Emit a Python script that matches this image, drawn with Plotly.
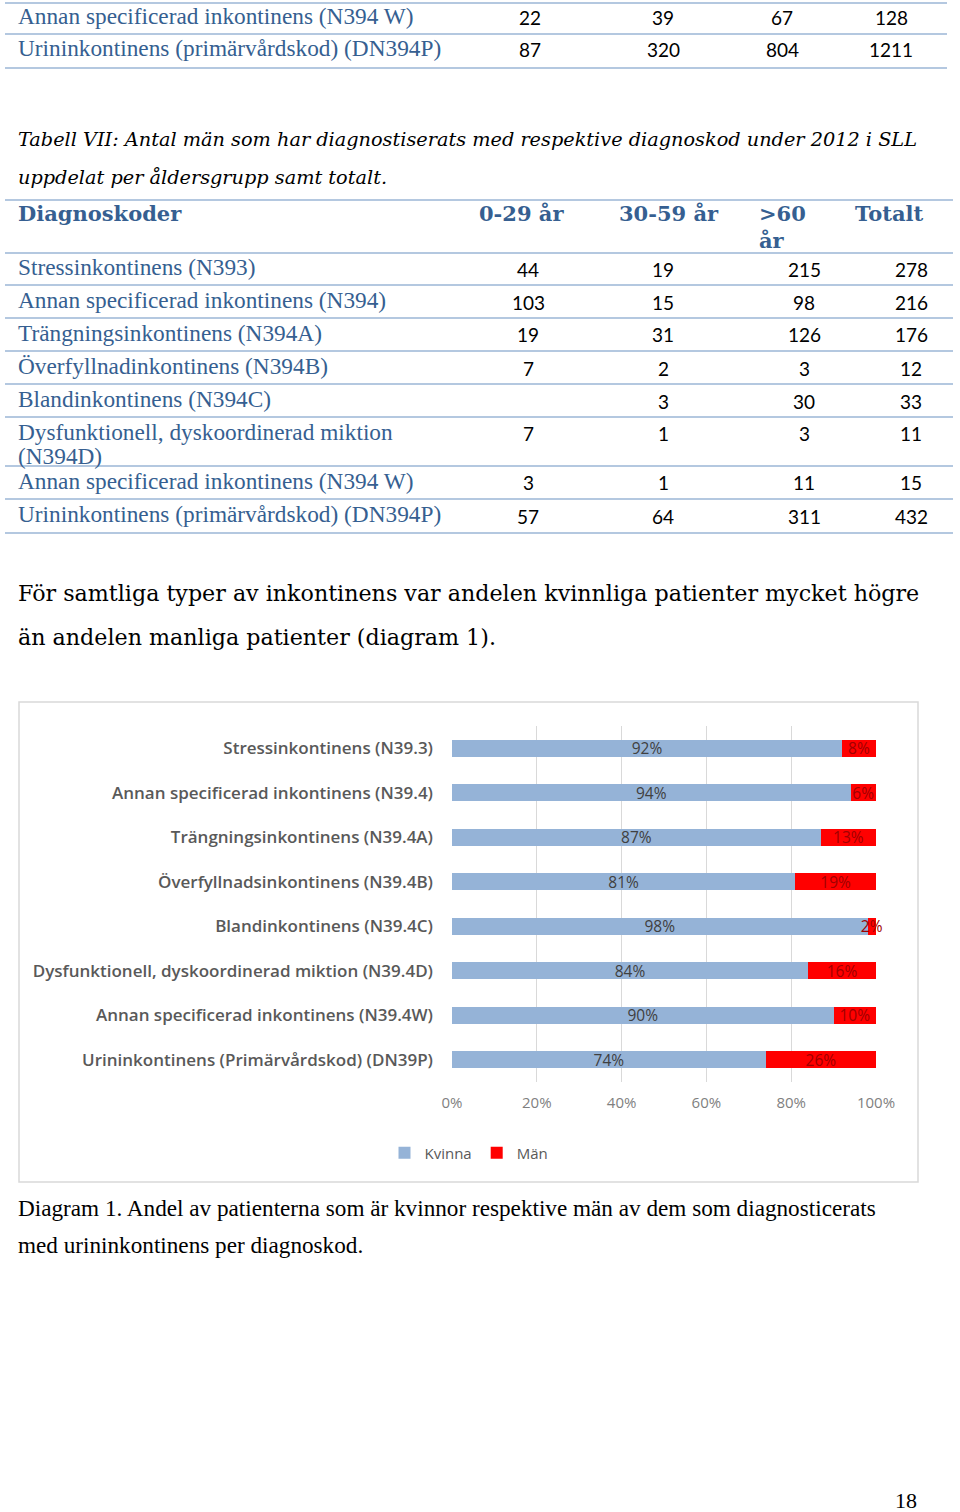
import plotly.graph_objects as go

# ---------------- data ----------------
top_rows = ["Annan specificerad inkontinens (N394 W)", "Urininkontinens (primärvårdskod) (DN394P)"]
top_0_29 = [22, 87]
top_30_59 = [39, 320]
top_60 = [67, 804]
top_total = [128, 1211]

tab_caption = ["Tabell VII: Antal män som har diagnostiserats med respektive diagnoskod under 2012 i SLL",
               "uppdelat per åldersgrupp samt totalt."]
tab_headers = ["Diagnoskoder", "0-29 år", "30-59 år", ">60<br>år", "Totalt"]
tab_rows = ["Stressinkontinens (N393)",
            "Annan specificerad inkontinens (N394)",
            "Trängningsinkontinens (N394A)",
            "Överfyllnadinkontinens (N394B)",
            "Blandinkontinens (N394C)",
            "Dysfunktionell, dyskoordinerad miktion<br>(N394D)",
            "Annan specificerad inkontinens (N394 W)",
            "Urininkontinens (primärvårdskod) (DN394P)"]
tab_0_29 = [44, 103, 19, 7, None, 7, 3, 57]
tab_30_59 = [19, 15, 31, 2, 3, 1, 1, 64]
tab_60 = [215, 98, 126, 3, 30, 3, 11, 311]
tab_total = [278, 216, 176, 12, 33, 11, 15, 432]

paragraph = ["För samtliga typer av inkontinens var andelen kvinnliga patienter mycket högre",
             "än andelen manliga patienter (diagram 1)."]

categories = ["Stressinkontinens (N39.3)",
              "Annan specificerad inkontinens (N39.4)",
              "Trängningsinkontinens (N39.4A)",
              "Överfyllnadsinkontinens (N39.4B)",
              "Blandinkontinens (N39.4C)",
              "Dysfunktionell, dyskoordinerad miktion (N39.4D)",
              "Annan specificerad inkontinens (N39.4W)",
              "Urininkontinens (Primärvårdskod) (DN39P)"]
kvinna = [0.92, 0.94, 0.87, 0.81, 0.98, 0.84, 0.90, 0.74]
man = [0.08, 0.06, 0.13, 0.19, 0.02, 0.16, 0.10, 0.26]
x_ticks = [0, 0.2, 0.4, 0.6, 0.8, 1.0]

diagram_caption = ["Diagram 1. Andel av patienterna som är kvinnor respektive män av dem som diagnosticerats",
                   "med urininkontinens per diagnoskod."]
page_number = "18"

# ---------------- page geometry ----------------
W, H = 960, 1512
def PX(x):
    return x / W
def PY(y):
    return 1 - y / H

BLUE_TXT = "#365F91"
LINE_C = "#B4C8E0"
SERIF = "Liberation Serif"
NUMF = "Lato"
PAD = 3  # annotation inner padding compensation

annotations = []
shapes = []

def text(x, y, s, size, color="#000000", family=SERIF, anchor="left", weight="normal", style="normal"):
    xx = x - PAD if anchor == "left" else x
    annotations.append(dict(x=PX(xx), y=PY(y), xref="paper", yref="paper", text=s,
                            showarrow=False, xanchor=anchor, yanchor="middle",
                            font=dict(size=size, color=color, family=family, weight=weight, style=style)))

def hline(x0, x1, y, color=LINE_C, width=2):
    shapes.append(dict(type="line", xref="paper", yref="paper", x0=PX(x0), x1=PX(x1),
                       y0=PY(y), y1=PY(y), line=dict(color=color, width=width)))

def fmt(v):
    return "" if v is None else str(v)

# ---- top table fragment ----
top_y = [16, 48]
top_cols = [530, 663, 782, 891]
for line_y in [3, 34, 68]:
    hline(5, 947, line_y)
for i, lab in enumerate(top_rows):
    text(19, top_y[i], lab, 23.3, BLUE_TXT)
    for cx, col in zip(top_cols, [top_0_29, top_30_59, top_60, top_total]):
        text(cx, top_y[i] + 2, fmt(col[i]), 19, "#000000", NUMF, "center")

# ---- caption ----
text(19, 140, tab_caption[0], 19.3, "#000000", "DejaVu Serif", style="italic")
text(19, 177, tab_caption[1], 19.3, "#000000", "DejaVu Serif", style="italic")

# ---- table VII ----
hline(5, 953, 200)
hline(5, 953, 253)
text(19, 214, tab_headers[0], 21, BLUE_TXT, "DejaVu Serif", weight="bold")
hdr_x = [480, 620, 760, 856]
for hx, h in zip(hdr_x, tab_headers[1:]):
    parts = h.split("<br>")
    for k, p in enumerate(parts):
        text(hx, 214 + 26 * k, p, 21, BLUE_TXT, "DejaVu Serif", weight="bold")

row_y = [267, 300, 333, 366, 399, 432, 481, 514]
sep_y = [285, 318, 351, 384, 417, 466, 499, 533]
tab_cols = [528, 663, 804, 911]
for i, lab in enumerate(tab_rows):
    for k, p in enumerate(lab.split("<br>")):
        text(19, row_y[i] + 24 * k, p, 23.3, BLUE_TXT)
    for cx, col in zip(tab_cols, [tab_0_29, tab_30_59, tab_60, tab_total]):
        text(cx, row_y[i] + 2, fmt(col[i]), 19, "#000000", NUMF, "center")
    hline(5, 953, sep_y[i])

# ---- paragraph ----
text(19, 593, paragraph[0], 22.2, "#000000", "DejaVu Serif")
text(19, 637, paragraph[1], 22.2, "#000000", "DejaVu Serif")

# ---- chart frame ----
shapes.append(dict(type="rect", xref="paper", yref="paper", x0=PX(19), x1=PX(918),
                   y0=PY(1182), y1=PY(702), line=dict(color="#D9D9D9", width=1.5),
                   fillcolor="rgba(0,0,0,0)", layer="below"))

# ---- diagram caption & page number ----
text(19, 1208, diagram_caption[0], 23.2, "#000000", SERIF)
text(19, 1245, diagram_caption[1], 23.2, "#000000", SERIF)
text(906, 1500, page_number, 22, "#000000", SERIF, "center")

# ---------------- chart ----------------
fig = go.Figure()
fig.add_trace(go.Bar(y=categories, x=kvinna, name="Kvinna", orientation="h",
                     marker=dict(color="#95B3D7", line=dict(width=0)),
                     texttemplate="%{x:.0%}", textposition="inside", insidetextanchor="middle",
                     textangle=0, constraintext="none", cliponaxis=False,
                     textfont=dict(size=15.5, color="#404040", family="Open Sans")))
fig.add_trace(go.Bar(y=categories, x=man, name="Män", orientation="h",
                     marker=dict(color="#FF0000", line=dict(width=0)),
                     texttemplate="%{x:.0%}", textposition="inside", insidetextanchor="middle",
                     textangle=0, constraintext="none", cliponaxis=False,
                     textfont=dict(size=15.5, color="#A00000", family="Open Sans")))

fig.update_layout(
    width=W, height=H, autosize=False, margin=dict(l=0, r=0, t=0, b=0, pad=0),
    paper_bgcolor="white", plot_bgcolor="white",
    barmode="stack", bargap=0.61,
    showlegend=True,
    legend=dict(orientation="h", x=PX(469), y=PY(1153), xanchor="center", yanchor="middle",
                itemwidth=30,
                font=dict(size=15, color="#595959", family="Open Sans"), traceorder="normal"),
    xaxis=dict(domain=[PX(452), PX(876)], range=[0, 1], tickvals=x_ticks, tickformat=".0%",
               showgrid=True, gridcolor="#D9D9D9", gridwidth=1, zeroline=False,
               showline=False, ticks="", ticklabelstandoff=10, automargin=False,
               tickfont=dict(size=15, color="#7F7F7F", family="Open Sans"), anchor="y"),
    yaxis=dict(domain=[PY(1082), PY(726)], autorange="reversed", showgrid=False,
               showline=False, ticks="", ticklabelstandoff=18, automargin=False,
               tickfont=dict(size=17, color="#595959", family="Open Sans", weight=600), anchor="x"),
    annotations=annotations, shapes=shapes,
)

fig.write_html("out.html", config={"responsive": False, "displayModeBar": False},
               post_script="document.body.style.margin='0';document.body.style.overflow='hidden';")
